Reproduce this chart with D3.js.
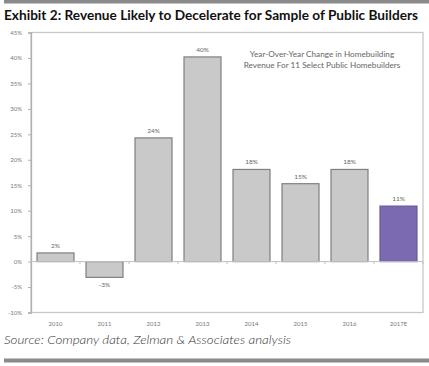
<!DOCTYPE html>
<html><head><meta charset="utf-8">
<script src="https://cdn.jsdelivr.net/npm/d3@7"></script>
<style>body{margin:0;background:#fff;}svg{display:block;}</style>
</head><body>
<svg id="c" width="429" height="366"></svg>
<script>
const categories = ["2010","2011","2012","2013","2014","2015","2016","2017E"];
const values = [1.7, -3.1, 24.3, 40.2, 18.1, 15.3, 18.1, 10.9];
const valueLabels = ["2%","-3%","24%","40%","18%","15%","18%","11%"];
const yTicks = [-10,-5,0,5,10,15,20,25,30,35,40,45];

const svg = d3.select("#c");
const m = {l:31, r:423, t:32.5, b:312.5};

// top and bottom stripes
svg.append("rect").attr("x",4).attr("y",0).attr("width",425).attr("height",3.5).attr("fill","#8a8a8a");
svg.append("rect").attr("x",4).attr("y",358.5).attr("width",425).attr("height",4).attr("fill","#8a8a8a");

svg.append("text").attr("x",4).attr("y",20).attr("font-family","Lato, 'Open Sans', sans-serif")
  .attr("font-weight","bold").attr("font-size",12.5).attr("fill","#111")
  .attr("textLength",414).attr("lengthAdjust","spacingAndGlyphs")
  .text("Exhibit 2: Revenue Likely to Decelerate for Sample of Public Builders");

const x = d3.scaleBand().domain(categories).range([m.l, m.r]).paddingInner(0.245).paddingOuter(0.1225);
const y = d3.scaleLinear().domain([-10,45]).range([m.b, m.t]);

// frame
svg.append("rect").attr("x",m.l).attr("y",m.t).attr("width",m.r-m.l).attr("height",m.b-m.t)
  .attr("fill","none").attr("stroke","#c8c8c8").attr("stroke-width",1.3);

// y axis
const ya = svg.append("g").attr("transform",`translate(${m.l},0)`)
  .call(d3.axisLeft(y).tickValues(yTicks).tickFormat(d=>d+"%").tickSize(3).tickPadding(6));
ya.select(".domain").attr("stroke","#b0b0b0").attr("stroke-width",1.3);
ya.selectAll("line").attr("stroke","#b0b0b0");
ya.selectAll("text").attr("font-family","Lato, sans-serif").attr("font-size",6).attr("fill","#777");

// bars
svg.append("g").selectAll("rect").data(values).join("rect")
  .attr("x",(d,i)=>x(categories[i]))
  .attr("width",x.bandwidth())
  .attr("y",d=>y(Math.max(0,d)))
  .attr("height",d=>Math.abs(y(d)-y(0)))
  .attr("fill",(d,i)=>i===categories.length-1?"#7b69b1":"#c9c9ca")
  .attr("stroke",(d,i)=>i===categories.length-1?"#6a5a9c":"#7f7f7f")
  .attr("stroke-width",1.2);

// zero line + category ticks
svg.append("line").attr("x1",m.l).attr("x2",m.r).attr("y1",y(0)).attr("y2",y(0)).attr("stroke","#c0c0c0").attr("stroke-width",1);
svg.append("g").selectAll("line").data(d3.range(1,categories.length+1)).join("line")
  .attr("x1",d=>m.l+d*(m.r-m.l)/categories.length).attr("x2",d=>m.l+d*(m.r-m.l)/categories.length)
  .attr("y1",y(0)).attr("y2",y(0)+2.5).attr("stroke","#c0c0c0");

// value labels
svg.append("g").selectAll("text").data(values).join("text")
  .attr("x",(d,i)=>x(categories[i])+x.bandwidth()/2)
  .attr("y",d=>d>=0?y(d)-5:y(d)+10)
  .attr("text-anchor","middle").attr("font-family","Lato, sans-serif").attr("font-size",6.5).attr("fill","#666")
  .text((d,i)=>valueLabels[i]);

// x labels
svg.append("g").selectAll("text").data(categories).join("text")
  .attr("x",d=>x(d)+x.bandwidth()/2).attr("y",325.5)
  .attr("text-anchor","middle").attr("font-family","Lato, sans-serif").attr("font-size",6).attr("fill","#777")
  .text(d=>d);

// annotation
const ann = svg.append("text").attr("text-anchor","middle").attr("font-family","Lato, sans-serif")
  .attr("font-size",8.2).attr("fill","#666");
ann.append("tspan").attr("x",322).attr("y",57).text("Year-Over-Year Change in Homebuilding");
ann.append("tspan").attr("x",322).attr("y",67.5).text("Revenue For 11 Select Public Homebuilders");

// source
svg.append("text").attr("x",4).attr("y",344).attr("font-family","Lato, 'Open Sans', sans-serif")
  .attr("font-style","italic").attr("font-weight",300).attr("font-size",11.5).attr("fill","#333")
  .attr("textLength",287).attr("lengthAdjust","spacingAndGlyphs")
  .text("Source: Company data, Zelman & Associates analysis");
</script>
</body></html>
